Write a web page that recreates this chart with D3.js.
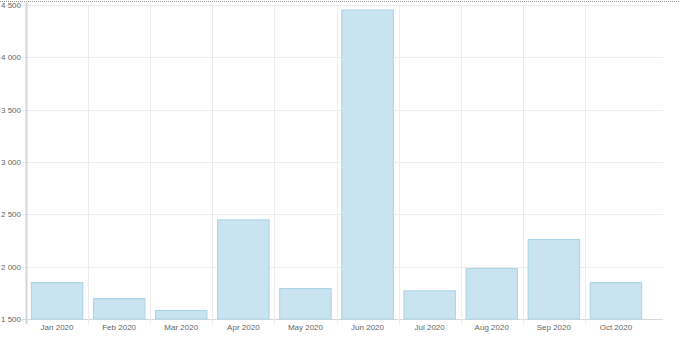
<!DOCTYPE html>
<html>
<head>
<meta charset="utf-8">
<script src="https://cdn.jsdelivr.net/npm/d3@7"></script>
<style>
  body { margin: 0; background: #fff; }
  svg { display: block; font-family: "Liberation Sans", Arial, sans-serif; }
</style>
</head>
<body>
<div id="chart"></div>
<script>
var months = ["Jan 2020","Feb 2020","Mar 2020","Apr 2020","May 2020","Jun 2020","Jul 2020","Aug 2020","Sep 2020","Oct 2020"];
var values = [1853, 1700, 1586, 2452, 1796, 4457, 1774, 1987, 2264, 1853];
var yTicks = [1500, 2000, 2500, 3000, 3500, 4000, 4500];

var W = 680, H = 346;
var pLeft = 26, pRight = 647, gridRight = 663, pTop = 5, pBottom = 319;

var svg = d3.select("#chart").append("svg").attr("width", W).attr("height", H);

// dotted line across the top
svg.append("line").attr("x1", 0).attr("x2", W).attr("y1", 1.5).attr("y2", 1.5)
  .attr("stroke", "#999").attr("stroke-dasharray", "1,1");

var x = d3.scaleBand().domain(months).range([pLeft, pRight]).paddingInner(0.155).paddingOuter(0.0775);
var y = d3.scaleLinear().domain([1500, 4500]).range([pBottom, pTop]);

var fmt = function(d){ return d3.format(",")(d).replace(",", " "); };

// horizontal grid
svg.append("g").selectAll("line").data(yTicks).enter().append("line")
  .attr("x1", pLeft - 4).attr("x2", gridRight)
  .attr("y1", function(d){ return Math.round(y(d)) + 0.5; })
  .attr("y2", function(d){ return Math.round(y(d)) + 0.5; })
  .attr("stroke", function(d){ return d === 1500 ? "#d8d8d8" : "#ececec"; });

// vertical grid at category boundaries
var bounds = months.slice(1).map(function(m){ return x(m) - x.step() * x.paddingInner() / 2; });
svg.append("g").selectAll("line").data(bounds).enter().append("line")
  .attr("x1", function(d){ return Math.round(d) + 0.5; })
  .attr("x2", function(d){ return Math.round(d) + 0.5; })
  .attr("y1", pTop).attr("y2", pBottom + 5)
  .attr("stroke", "#ececec");

// y axis line
svg.append("line").attr("x1", pLeft + 0.5).attr("x2", pLeft + 0.5)
  .attr("y1", pTop - 4).attr("y2", pBottom + 5)
  .attr("stroke", "#d6d6d6").attr("stroke-width", 2);

// y labels
svg.append("g").selectAll("text").data(yTicks).enter().append("text")
  .attr("x", pLeft - 5).attr("y", function(d){ return y(d) + 3; })
  .attr("text-anchor", "end").attr("font-size", 8).attr("fill", "#666")
  .text(fmt);

// bars
svg.append("g").selectAll("rect").data(values).enter().append("rect")
  .attr("x", function(d, i){ return x(months[i]) + 0.5; })
  .attr("y", function(d){ return y(d) + 0.5; })
  .attr("width", x.bandwidth() - 1)
  .attr("height", function(d){ return pBottom - y(d) - 0.5; })
  .attr("fill", "#c9e3f0")
  .attr("stroke", "#a9d3e6").attr("stroke-width", 1);

// x labels
svg.append("g").selectAll("text").data(months).enter().append("text")
  .attr("x", function(d){ return x(d) + x.bandwidth() / 2; })
  .attr("y", pBottom + 11)
  .attr("text-anchor", "middle").attr("font-size", 8).attr("fill", "#666")
  .text(function(d){ return d; });
</script>
</body>
</html>
